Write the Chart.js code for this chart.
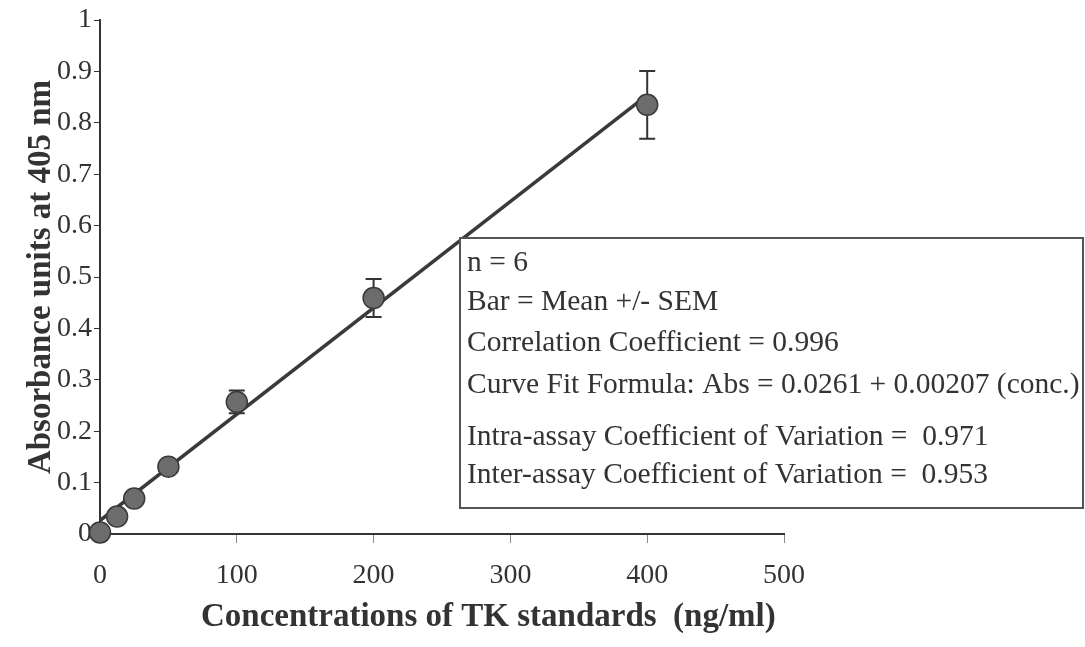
<!DOCTYPE html>
<html>
<head>
<meta charset="utf-8">
<script src="https://cdn.jsdelivr.net/npm/chart.js@4.4.0/dist/chart.umd.min.js"></script>
<style>
    html, body { margin: 0; padding: 0; background: #fff; }
    #wrap { width: 1085px; height: 647px; }
</style>
</head>
<body>
<div id="wrap"><canvas id="tkChart" width="1085" height="647"></canvas></div>
<script>
// Dữ liệu
const concentrations = [0, 12.5, 25, 50, 100, 200, 400];
const absorbance = [0.003, 0.034, 0.069, 0.131, 0.257, 0.459, 0.835];
const sem = [0, 0, 0, 0, 0.022, 0.037, 0.066];

// Đường hồi quy (hai đầu mút)
const fitConc = [0, 400];
const fitAbs = [0.0261, 0.854];

const xTickLabels = ['0', '100', '200', '300', '400', '500'];
const yTickLabels = ['0', '0.1', '0.2', '0.3', '0.4', '0.5', '0.6', '0.7', '0.8', '0.9', '1'];

const notes = [
    'n = 6',
    'Bar = Mean +/- SEM',
    'Correlation Coefficient = 0.996',
    'Curve Fit Formula: Abs = 0.0261 + 0.00207 (conc.)',
    'Intra-assay Coefficient of Variation =  0.971',
    'Inter-assay Coefficient of Variation =  0.953'
];

const ink = '#333333';
const serif = '"Liberation Serif", "Times New Roman", serif';

// Vẽ thanh sai số (SEM)
const errorBars = {
    id: 'errorBars',
    beforeDatasetsDraw(chart) {
        const { ctx, scales: { x, y } } = chart;
        ctx.save();
        ctx.strokeStyle = ink;
        ctx.lineWidth = 2;
        concentrations.forEach((c, i) => {
            if (!sem[i]) return;
            const px = x.getPixelForValue(c);
            const top = y.getPixelForValue(absorbance[i] + sem[i]);
            const bot = y.getPixelForValue(absorbance[i] - sem[i]);
            ctx.beginPath();
            ctx.moveTo(px, top); ctx.lineTo(px, bot);
            ctx.moveTo(px - 8, top); ctx.lineTo(px + 8, top);
            ctx.moveTo(px - 8, bot); ctx.lineTo(px + 8, bot);
            ctx.stroke();
        });
        ctx.restore();
    }
};

// Khung chú thích
const notesBox = {
    id: 'notesBox',
    afterDraw(chart) {
        const ctx = chart.ctx;
        ctx.save();
        ctx.fillStyle = '#fff';
        ctx.fillRect(460, 238, 623, 270);
        ctx.strokeStyle = '#555';
        ctx.lineWidth = 2;
        ctx.strokeRect(460, 238, 623, 270);
        ctx.fillStyle = ink;
        ctx.font = '29.5px ' + serif;
        ctx.textBaseline = 'middle';
        const rows = [263, 302, 343, 385, 437, 475];
        notes.forEach((t, i) => ctx.fillText(t, 467, rows[i]));
        ctx.restore();
    }
};

function setupChart() {
    const ctx = document.getElementById('tkChart').getContext('2d');
    window.tkChart = new Chart(ctx, {
        type: 'scatter',
        data: {
            datasets: [{
                label: 'TK standards',
                data: concentrations.map((c, i) => ({ x: c, y: absorbance[i] })),
                pointRadius: 10.5,
                pointBorderWidth: 1.5,
                pointBackgroundColor: '#6c6c6c',
                pointBorderColor: '#3a3a3a',
                order: 0,
                clip: false
            }, {
                label: 'Curve fit',
                type: 'line',
                data: fitConc.map((c, i) => ({ x: c, y: fitAbs[i] })),
                borderColor: '#3a3a3a',
                borderWidth: 3.5,
                pointRadius: 0,
                order: 1
            }]
        },
        options: {
            responsive: false,
            animation: false,
            layout: { padding: { left: 0, top: 20, right: 301, bottom: 0 } },
            plugins: { legend: { display: false }, tooltip: { enabled: false } },
            scales: {
                x: {
                    type: 'linear',
                    min: 0, max: 500,
                    afterFit(scale) { scale.height = 113; },
                    grid: { drawOnChartArea: false, color: '#888', tickLength: 9 },
                    border: { color: ink, width: 2 },
                    ticks: {
                        stepSize: 100,
                        padding: 16,
                        color: ink,
                        font: { family: serif, size: 28 },
                        callback: (v, i) => xTickLabels[i]
                    },
                    title: {
                        display: true,
                        align: 'end',
                        text: 'Concentrations of TK standards  (ng/ml) ',
                        color: ink,
                        font: { family: serif, size: 33, weight: 'bold' },
                        padding: { top: 0, bottom: 10 }
                    }
                },
                y: {
                    type: 'linear',
                    min: 0, max: 1,
                    afterFit(scale) { scale.width = 100; },
                    grid: { drawOnChartArea: false, color: ink, tickLength: 6 },
                    border: { color: ink, width: 2 },
                    ticks: {
                        stepSize: 0.1,
                        padding: 2,
                        color: ink,
                        font: { family: serif, size: 28 },
                        callback: (v, i) => yTickLabels[i]
                    },
                    title: {
                        display: true,
                        text: 'Absorbance units at 405 nm',
                        color: ink,
                        font: { family: serif, size: 33, weight: 'bold' },
                        padding: { top: 22, bottom: 0 }
                    }
                }
            }
        },
        plugins: [errorBars, notesBox]
    });
}

document.addEventListener('DOMContentLoaded', setupChart);
</script>
</body>
</html>
